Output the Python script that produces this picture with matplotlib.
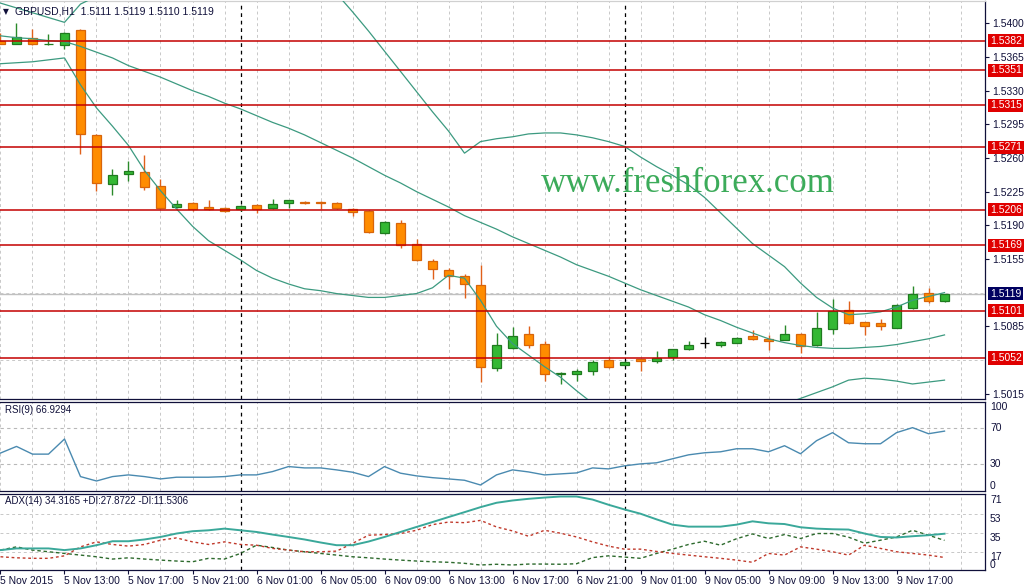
import numpy as np
import matplotlib.pyplot as plt
from matplotlib.ticker import FormatStrFormatter

# GBPUSD H1, 60 bars from 5 Nov 2015 09:00 to 9 Nov 2015 20:00
open_ = [1.5382, 1.5379, 1.5385, 1.5378, 1.5377, 1.5393, 1.5284, 1.5233, 1.5243, 1.5245,
         1.5231, 1.5209, 1.5213, 1.5209, 1.5208, 1.5207, 1.5211, 1.5208, 1.5213, 1.5214,
         1.5214, 1.5213, 1.5207, 1.5205, 1.5182, 1.5192, 1.5171, 1.5153, 1.5144, 1.5137,
         1.5128, 1.5042, 1.5062, 1.5077, 1.5067, 1.5035, 1.5035, 1.5039, 1.5050, 1.5045,
         1.5051, 1.5049, 1.5053, 1.5061, 1.5068, 1.5066, 1.5068, 1.5075, 1.5072, 1.5071,
         1.5077, 1.5066, 1.5082, 1.5102, 1.5089, 1.5088, 1.5083, 1.5104, 1.5120, 1.5111]
high = [1.5390, 1.5400, 1.5394, 1.5389, 1.5391, 1.5394, 1.5285, 1.5249, 1.5257, 1.5263,
        1.5238, 1.5216, 1.5214, 1.5216, 1.5209, 1.5211, 1.5212, 1.5217, 1.5216, 1.5215,
        1.5215, 1.5214, 1.5208, 1.5206, 1.5194, 1.5196, 1.5176, 1.5155, 1.5146, 1.5139,
        1.5149, 1.5078, 1.5084, 1.5085, 1.5070, 1.5037, 1.5041, 1.5050, 1.5053, 1.5049,
        1.5051, 1.5059, 1.5061, 1.5070, 1.5074, 1.5070, 1.5074, 1.5081, 1.5076, 1.5086,
        1.5078, 1.5100, 1.5113, 1.5111, 1.5089, 1.5093, 1.5108, 1.5127, 1.5125, 1.5119]
low = [1.5378, 1.5378, 1.5377, 1.5377, 1.5373, 1.5264, 1.5226, 1.5221, 1.5236, 1.5227,
       1.5207, 1.5208, 1.5205, 1.5206, 1.5204, 1.5205, 1.5203, 1.5207, 1.5208, 1.5212,
       1.5207, 1.5207, 1.5200, 1.5182, 1.5181, 1.5166, 1.5153, 1.5134, 1.5124, 1.5114,
       1.5027, 1.5039, 1.5061, 1.5062, 1.5028, 1.5025, 1.5028, 1.5034, 1.5042, 1.5045,
       1.5039, 1.5047, 1.5050, 1.5060, 1.5062, 1.5063, 1.5068, 1.5071, 1.5060, 1.5071,
       1.5057, 1.5065, 1.5077, 1.5087, 1.5076, 1.5081, 1.5083, 1.5103, 1.5109, 1.5110]
close_ = [1.5379, 1.5386, 1.5378, 1.5379, 1.5390, 1.5285, 1.5234, 1.5242, 1.5246, 1.5230,
          1.5208, 1.5212, 1.5207, 1.5207, 1.5205, 1.5210, 1.5207, 1.5212, 1.5216, 1.5213,
          1.5213, 1.5208, 1.5204, 1.5183, 1.5193, 1.5170, 1.5154, 1.5145, 1.5137, 1.5129,
          1.5043, 1.5066, 1.5075, 1.5066, 1.5035, 1.5036, 1.5038, 1.5048, 1.5043, 1.5048,
          1.5049, 1.5052, 1.5061, 1.5066, 1.5068, 1.5069, 1.5073, 1.5072, 1.5070, 1.5077,
          1.5064, 1.5083, 1.5101, 1.5088, 1.5085, 1.5085, 1.5107, 1.5119, 1.5111, 1.5119]

# bollinger bands
upper = [1.5421, 1.5416, 1.5411, 1.5406, 1.5401, 1.5420, 1.5428, 1.5435, 1.5439, 1.5453,
         1.5462, 1.5467, 1.5471, 1.5474, 1.5470, 1.5468, 1.5465, 1.5459, 1.5453, 1.5448,
         1.5442, 1.5431, 1.5412, 1.5392, 1.5371, 1.5350, 1.5329, 1.5308, 1.5288, 1.5265,
         1.5277, 1.5280, 1.5282, 1.5285, 1.5286, 1.5286, 1.5284, 1.5281, 1.5277, 1.5272,
         1.5261, 1.5251, 1.5242, 1.5232, 1.5219, 1.5203, 1.5187, 1.5171, 1.5159, 1.5147,
         1.5130, 1.5115, 1.5104, 1.5097, 1.5098, 1.5100, 1.5105, 1.5112, 1.5116, 1.5120]
middle = [1.5387, 1.5385, 1.5384, 1.5382, 1.5381, 1.5376, 1.5370, 1.5364, 1.5356, 1.5350,
          1.5344, 1.5337, 1.5330, 1.5324, 1.5317, 1.5311, 1.5304, 1.5297, 1.5291, 1.5284,
          1.5276, 1.5268, 1.5260, 1.5251, 1.5242, 1.5234, 1.5225, 1.5217, 1.5209, 1.5200,
          1.5193, 1.5186, 1.5178, 1.5171, 1.5164, 1.5157, 1.5149, 1.5143, 1.5137, 1.5130,
          1.5123, 1.5117, 1.5111, 1.5105, 1.5097, 1.5091, 1.5084, 1.5078, 1.5072, 1.5068,
          1.5065, 1.5063, 1.5062, 1.5062, 1.5063, 1.5064, 1.5066, 1.5069, 1.5072, 1.5076]
lower = [1.5358, 1.5359, 1.5360, 1.5362, 1.5364, 1.5336, 1.5312, 1.5293, 1.5273, 1.5247,
         1.5226, 1.5207, 1.5189, 1.5174, 1.5164, 1.5154, 1.5143, 1.5135, 1.5129, 1.5124,
         1.5122, 1.5119, 1.5117, 1.5115, 1.5115, 1.5117, 1.5119, 1.5125, 1.5138, 1.5135,
         1.5112, 1.5085, 1.5067, 1.5055, 1.5043, 1.5032, 1.5018, 1.5005, 1.4995, 1.4987,
         1.4981, 1.4977, 1.4975, 1.4975, 1.4977, 1.4981, 1.4987, 1.4993, 1.4999, 1.5004,
         1.5010, 1.5016, 1.5022, 1.5029, 1.5031, 1.5030, 1.5028, 1.5025, 1.5027, 1.5029]

rsi = [42.4, 49.8, 41.2, 41.2, 58.1, 16.1, 11.2, 16.1, 18.0, 16.1,
       13.5, 15.4, 15.4, 15.4, 16.1, 18.0, 18.0, 21.7, 27.3, 25.8,
       25.8, 23.6, 21.0, 16.1, 27.3, 19.9, 16.9, 14.9, 13.5, 12.0,
       6.7, 18.0, 23.6, 21.3, 18.0, 19.1, 20.2, 25.8, 24.7, 28.1,
       30.3, 31.5, 36.0, 40.4, 42.7, 43.8, 47.2, 47.2, 43.8, 50.6,
       41.6, 56.2, 65.2, 53.9, 52.8, 52.8, 65.2, 70.8, 64.0, 66.9]

adx = [18.6, 20.2, 20.2, 20.2, 18.6, 20.2, 23.3, 27.1, 27.1, 28.8,
       31.2, 34.5, 36.7, 37.6, 39.2, 37.6, 36.0, 33.5, 31.2, 28.8,
       25.9, 23.3, 23.3, 26.8, 31.2, 36.0, 40.8, 45.5, 50.3, 55.0,
       59.8, 64.0, 66.2, 67.8, 69.0, 70.0, 70.0, 67.1, 62.1, 57.6,
       53.5, 48.1, 43.0, 41.1, 41.1, 41.1, 43.0, 46.2, 44.3, 43.6,
       40.5, 39.2, 38.6, 38.3, 34.5, 31.2, 30.7, 31.9, 32.9, 34.3]
plus_di = [18.6, 21.7, 18.6, 17.0, 15.4, 13.8, 12.2, 10.0, 11.2, 10.0,
           9.0, 8.1, 7.4, 10.7, 10.0, 15.4, 23.3, 21.1, 18.6, 17.0,
           15.4, 13.8, 12.2, 11.2, 10.0, 9.0, 8.1, 7.4, 6.9, 5.9,
           4.3, 5.0, 4.3, 5.2, 5.2, 5.0, 5.5, 11.4, 13.1, 11.9,
           10.7, 15.4, 19.5, 24.0, 27.1, 23.3, 29.5, 34.1, 29.7, 33.5,
           29.7, 34.5, 34.5, 31.0, 25.2, 28.1, 31.2, 37.6, 32.9, 27.9]
minus_di = [12.2, 11.2, 10.7, 10.7, 13.1, 21.7, 26.5, 24.0, 22.4, 24.0,
            28.1, 30.3, 26.5, 24.0, 26.5, 24.0, 23.3, 20.2, 18.6, 17.0,
            17.0, 17.6, 25.0, 32.9, 33.5, 34.5, 37.6, 43.0, 45.5, 44.9,
            47.1, 40.8, 37.0, 31.9, 37.6, 34.8, 31.2, 26.5, 22.4, 19.5,
            19.5, 17.3, 15.4, 13.8, 12.2, 10.7, 9.0, 6.9, 15.4, 13.8,
            21.7, 19.5, 17.0, 13.8, 23.3, 20.2, 17.0, 15.4, 13.8, 11.5]

levels = [1.5382, 1.5351, 1.5315, 1.5271, 1.5206, 1.5169, 1.5101, 1.5052]
bid = 1.5119
price_ticks = [1.5015, 1.5085, 1.5155, 1.5190, 1.5225, 1.5260, 1.5295, 1.5330, 1.5365, 1.5400]
price_grid = [1.5015, 1.5050, 1.5085, 1.5120, 1.5155, 1.5190, 1.5225, 1.5260,
              1.5295, 1.5330, 1.5365, 1.5400]
time_labels = ['5 Nov 2015', '5 Nov 13:00', '5 Nov 17:00', '5 Nov 21:00', '6 Nov 01:00',
               '6 Nov 05:00', '6 Nov 09:00', '6 Nov 13:00', '6 Nov 17:00', '6 Nov 21:00',
               '9 Nov 01:00', '9 Nov 05:00', '9 Nov 09:00', '9 Nov 13:00', '9 Nov 17:00']
label_bars = list(range(0, 60, 4))
separators = [15, 39]

W, H = 1027, 585
navy = '#10103a'
grid_c = '#c8c8c8'
dash = (0, (3, 3))
plt.rcParams['font.family'] = ['Liberation Sans', 'DejaVu Sans']

fig = plt.figure(figsize=(W / 100, H / 100), dpi=100)
fig.patch.set_facecolor('white')


def panel(top, bottom):
    return fig.add_axes([0, 1 - bottom / H, 985 / W, (bottom - top) / H])


ax = panel(1, 398.5)
ax_rsi = panel(401.5, 491)
ax_adx = panel(493.5, 570)

x = np.arange(len(close_))
o, h, l, c = map(np.array, (open_, high, low, close_))

face, edge, wick = [], [], []
for oi, ci in zip(o, c):
    if ci > oi:
        face.append('#34b834'); edge.append('#1f7a1f'); wick.append('#2a8a2a')
    elif ci < oi:
        face.append('#ff8c00'); edge.append('#d8650a'); wick.append('#e0601a')
    else:
        face.append('black'); edge.append('black'); wick.append('black')

ax.vlines(x, l, h, colors=wick, lw=1, zorder=3)
ax.bar(x, np.abs(c - o), bottom=np.minimum(o, c), width=0.62,
       color=face, edgecolor=edge, linewidth=0.9, zorder=4)

band_c = '#3c9a80'
for band in (upper, middle, lower):
    ax.plot(x, band, color=band_c, lw=0.9, zorder=5)

for lv in levels:
    ax.axhline(lv, color='#c40000', lw=1.1, zorder=6)
    ax.text(990 / 985, lv, f'{lv:.4f}', transform=ax.get_yaxis_transform(),
            ha='left', va='center', fontsize=7.5, color='white', clip_on=False,
            bbox=dict(boxstyle='square,pad=0.15', fc='#e00000', ec='none'))
ax.axhline(bid, color='#c0c0c0', lw=1, zorder=1)
ax.text(990 / 985, bid, f'{bid:.4f}', transform=ax.get_yaxis_transform(),
        ha='left', va='center', fontsize=7.5, color='white', clip_on=False,
        bbox=dict(boxstyle='square,pad=0.15', fc='#000060', ec='none'))

ax.set_ylim(1.50099, 1.54232)
ax.yaxis.tick_right()
ax.set_yticks(price_ticks)
ax.yaxis.set_major_formatter(FormatStrFormatter('%.4f'))
ax.set_yticks(price_grid, minor=True)
ax.tick_params(axis='y', which='major', length=3, width=0.8, pad=2,
               labelsize=7.5, colors=navy)
ax.tick_params(axis='y', which='minor', length=0)

# RSI
ax_rsi.plot(x, rsi, color='#4a8ab0', lw=1, zorder=3)
ax_rsi.set_ylim(0, 100)
ax_rsi.set_yticks([])
for lv in (30, 70):
    ax_rsi.axhline(lv, color='#b8b8b8', lw=0.8, ls=dash, zorder=1)
rt = ax_rsi.get_yaxis_transform()
for v, lab, va in ((100, '100', 'top'), (70, '70', 'center'), (30, '30', 'center'), (0, '0', 'bottom')):
    ax_rsi.text(990 / 985, v, lab, transform=rt, ha='left', va=va,
                fontsize=7.5, color=navy, clip_on=False)

# ADX
ax_adx.plot(x, adx, color='#3aa89a', lw=1.4, zorder=4)
ax_adx.plot(x, plus_di, color='#2d6a2d', lw=1, ls=(0, (2.5, 2)), zorder=3)
ax_adx.plot(x, minus_di, color='#c0392b', lw=1, ls=(0, (2, 2)), zorder=3)
ax_adx.set_ylim(-0.5, 72.9)
ax_adx.set_yticks([])
for lv in (17, 35, 53):
    ax_adx.axhline(lv, color=grid_c, lw=0.7, ls=dash, zorder=1)
at = ax_adx.get_yaxis_transform()
for v in (71, 53, 35, 17):
    ax_adx.text(990 / 985, v, str(v), transform=at, ha='left', va='top',
                fontsize=7.5, color=navy, clip_on=False)
ax_adx.text(990 / 985, -0.5, '0', transform=at, ha='left', va='bottom',
            fontsize=7.5, color=navy, clip_on=False)

for a in (ax, ax_rsi, ax_adx):
    a.set_xlim(-0.031, 61.53)
    a.set_xticks(np.arange(0, 62, 2), minor=True)
    a.grid(True, which='minor', axis='x', color=grid_c, lw=0.7, ls=dash, zorder=0)
    for s in separators:
        a.axvline(s, color='black', lw=0.9, ls=(0, (3, 3)), zorder=2)
    a.spines['left'].set_visible(False)
    for side in ('top', 'bottom', 'right'):
        a.spines[side].set_color(navy)
        a.spines[side].set_linewidth(0.9)
    a.tick_params(axis='x', which='minor', length=0)
ax.grid(True, which='minor', axis='y', color=grid_c, lw=0.7, ls=dash, zorder=0)
ax.spines['top'].set_color('#d0d0d0')

ax.set_xticks([])
ax_rsi.set_xticks([])
ax_adx.set_xticks(label_bars)
ax_adx.set_xticklabels(time_labels, ha='left')
ax_adx.tick_params(axis='x', which='major', length=3, width=0.8, pad=1,
                   labelsize=7.5, colors=navy)

# header texts
fig.text(6 / W, 1 - 12 / H, '▼', fontsize=5.5, color=navy, ha='center', va='center',
         family='DejaVu Sans')
fig.text(15 / W, 1 - 12 / H, 'GBPUSD,H1  1.5111 1.5119 1.5110 1.5119',
         fontsize=7.5, color=navy, ha='left', va='center')
fig.text(5 / W, 1 - 410 / H, 'RSI(9) 66.9294', fontsize=7, color=navy,
         ha='left', va='center')
fig.text(5 / W, 1 - 501 / H, 'ADX(14) 34.3165 +DI:27.8722 -DI:11.5306', fontsize=7,
         color=navy, ha='left', va='center')
fig.text(688 / W, 1 - 192 / H, 'www.freshforex.com', fontsize=25, color='#3cab5a',
         ha='center', va='baseline', family='Liberation Serif')

fig.savefig('out.png', dpi=100, facecolor='white')
